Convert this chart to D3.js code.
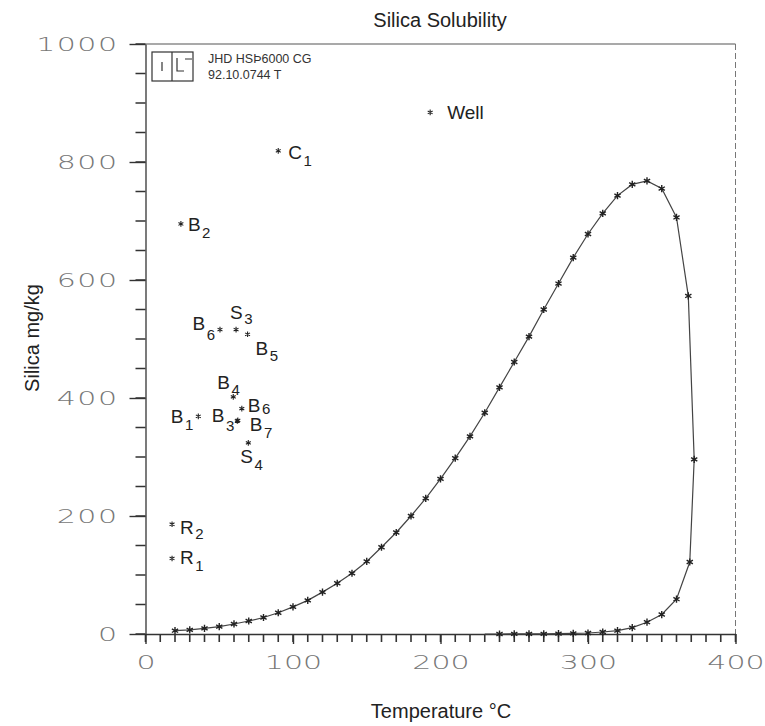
<!DOCTYPE html>
<html lang="en">
<head>
<meta charset="UTF-8">
<title>Silica Solubility</title>
<script src="https://cdn.jsdelivr.net/npm/d3@7"></script>
<style>
  body { margin: 0; background: #fff; }
  text { font-family: "Liberation Sans", Arial, sans-serif; fill: #222; }
  .num { font-family: "DejaVu Sans", sans-serif; font-weight: 200; font-size: 20px; fill: #777; letter-spacing: 1px; }
  .xnum { letter-spacing: 0px; }
</style>
</head>
<body>
<script>
// solubility curve, liquid branch (degC, mg/kg)
var liquidT  = [20,30,40,50,60,70,80,90,100,110,120,130,140,150,160,170,180,190,200,
                210,220,230,240,250,260,270,280,290,300,310,320,330,340,350,360,368];
var liquidSi = [5.6,7,9.6,12.5,17,22,28,36,46,57,71,86,103,123,147,172,200,230,263,
                298,335,375,418,461,504,550,594,638,678,713,743,762,768,755,706,573];
// join at the critical point
var critT  = [372];
var critSi = [296];
// steam branch, going back down in temperature
var vaporT  = [369,360,350,340,330,320,310,300,290,280,270,260,250,240,230];
var vaporSi = [122,59,33,20,10.7,5.6,3.4,1.7,1,0.5,0.3,0.2,0.1,0,0];

// samples
var sampleName = ["Well","C","B","B","S","B","B","B","B","B","B","S","R","R"];
var sampleSub  = ["","1","2","6","3","5","4","6","1","3","7","4","2","1"];
var sampleT    = [193,90,24,50.5,61.4,69.2,59.5,65.3,35.8,62.2,62.6,69.7,18,18];
var sampleSi   = [884,819,695,516,516,508,402,382,369,361,362,324,186,128];

var xTicks = [0,100,200,300,400];
var yTicks = [0,200,400,600,800,1000];
var xMinor = d3.range(0,401,10);
var yMinor = d3.range(0,1001,50);

// label placement next to each sample marker: dx, dy, anchor, subscript drop
var labelDx  = [17,10,7,-5,-6,8,-16,6,-5,-3,12,-8,8,8];
var labelDy  = [7,8,7,0,-11,21,-8,3,7,1,11,20,10,6];
var labelAnc = ["start","start","start","end","start","start","start","start","end","end","start","start","start","start"];
var subDrop  = [0,7,7,10,5,6,6,2,7,9,7,7,5,7];

var W = 765, H = 726;
var svg = d3.select("body").append("svg").attr("width", W).attr("height", H);

var x = d3.scaleLinear().domain([0,400]).range([145.5,735.5]);
var y = d3.scaleLinear().domain([0,1000]).range([634,44]);

// frame: top solid, right dashed
svg.append("line").attr("x1",x(0)).attr("x2",x(400)).attr("y1",y(1000)).attr("y2",y(1000))
  .attr("stroke","#555").attr("stroke-width",1.2);
svg.append("line").attr("x1",x(400)).attr("x2",x(400)).attr("y1",y(1000)).attr("y2",y(0))
  .attr("stroke","#777").attr("stroke-width",1).attr("stroke-dasharray","6,3");

// minor ticks every 10 degC and every 50 mg/kg
var p = d3.path();
xMinor.forEach(function(d){ p.moveTo(x(d), y(0)); p.lineTo(x(d), y(0) + 8); });
yMinor.forEach(function(d){ p.moveTo(x(0), y(d)); p.lineTo(x(0) - 10, y(d)); });
svg.append("path").attr("d", p.toString())
  .attr("fill","none").attr("stroke","#333").attr("stroke-width",1.6);

// major ticks + labels
var sx = 1.5;
var gx = svg.append("g").attr("transform","translate(0," + y(0) + ")")
  .call(d3.axisBottom(x).tickValues(xTicks).tickSize(10).tickSizeOuter(0).tickFormat(d3.format("d")));
gx.selectAll("text").attr("class","num xnum").attr("y",21).attr("x",0).attr("transform","scale(" + sx + ",1)");

var gy = svg.append("g").attr("transform","translate(" + x(0) + ",0)")
  .call(d3.axisLeft(y).tickValues(yTicks).tickSize(16).tickSizeOuter(0).tickFormat(d3.format("d")));
gy.selectAll("text").attr("class","num").attr("x", -27 / sx).attr("transform","scale(" + sx + ",1)");

svg.selectAll(".domain").attr("stroke","#333").attr("stroke-width",1.3);
svg.selectAll(".tick line").attr("stroke","#333").attr("stroke-width",1.4);

// titles
svg.append("text").attr("x",440).attr("y",27).attr("text-anchor","middle")
  .style("font-size","20px").text("Silica Solubility");
svg.append("text").attr("x",441).attr("y",718).attr("text-anchor","middle")
  .style("font-size","20px").text("Temperature \u00b0C");
svg.append("text").attr("transform","translate(39,338) rotate(-90)").attr("text-anchor","middle")
  .style("font-size","20px").text("Silica mg/kg");

// stamp box in the corner
var stamp = svg.append("g").attr("fill","none").attr("stroke","#333").attr("stroke-width",1.2);
stamp.append("rect").attr("x",152).attr("y",52).attr("width",41).attr("height",29);
stamp.append("line").attr("x1",172).attr("x2",172).attr("y1",52).attr("y2",81);
stamp.append("line").attr("x1",162).attr("x2",162).attr("y1",62).attr("y2",71);
stamp.append("path").attr("d","M177,58 V71 H184 M185,59 H192");
svg.append("text").attr("x",208).attr("y",63).style("font-size","12.5px").style("fill","#333")
  .text("JHD HS\u00de6000 CG");
svg.append("text").attr("x",208).attr("y",79).style("font-size","12.5px").style("fill","#333")
  .text("92.10.0744 T");

// curve
var curve = [];
liquidT.forEach(function(t,i){ curve.push([t, liquidSi[i]]); });
critT.forEach(function(t,i){ curve.push([t, critSi[i]]); });
vaporT.forEach(function(t,i){ curve.push([t, vaporSi[i]]); });

svg.append("path").datum(curve)
  .attr("fill","none").attr("stroke","#444").attr("stroke-width",1.2)
  .attr("d", d3.line().x(function(d){ return x(d[0]); }).y(function(d){ return y(d[1]); }));

var star = d3.symbol().type(d3.symbolAsterisk).size(36);
svg.append("g").selectAll("path").data(curve.slice(0, curve.length - 1)).enter().append("path")
  .attr("transform", function(d){ return "translate(" + x(d[0]) + "," + y(d[1]) + ")"; })
  .attr("d", star).attr("fill","none").attr("stroke","#222").attr("stroke-width",1.4);

// samples
var samples = sampleName.map(function(n,i){ return {n:n, s:sampleSub[i], t:sampleT[i], v:sampleSi[i], i:i}; });
svg.append("g").selectAll("path").data(samples).enter().append("path")
  .attr("transform", function(d){ return "translate(" + x(d.t) + "," + y(d.v) + ")"; })
  .attr("d", d3.symbol().type(d3.symbolAsterisk).size(22)).attr("fill","none").attr("stroke","#222").attr("stroke-width",1.1);

var lab = svg.append("g").selectAll("text").data(samples).enter().append("text")
  .attr("x", function(d){ return x(d.t) + labelDx[d.i]; })
  .attr("y", function(d){ return y(d.v) + labelDy[d.i]; })
  .attr("text-anchor", function(d){ return labelAnc[d.i]; })
  .style("font-size","19px");
lab.append("tspan").text(function(d){ return d.n; });
lab.append("tspan").attr("dy", function(d){ return subDrop[d.i]; }).attr("dx",1.5)
  .style("font-size","15px").text(function(d){ return d.s; });
</script>
</body>
</html>
